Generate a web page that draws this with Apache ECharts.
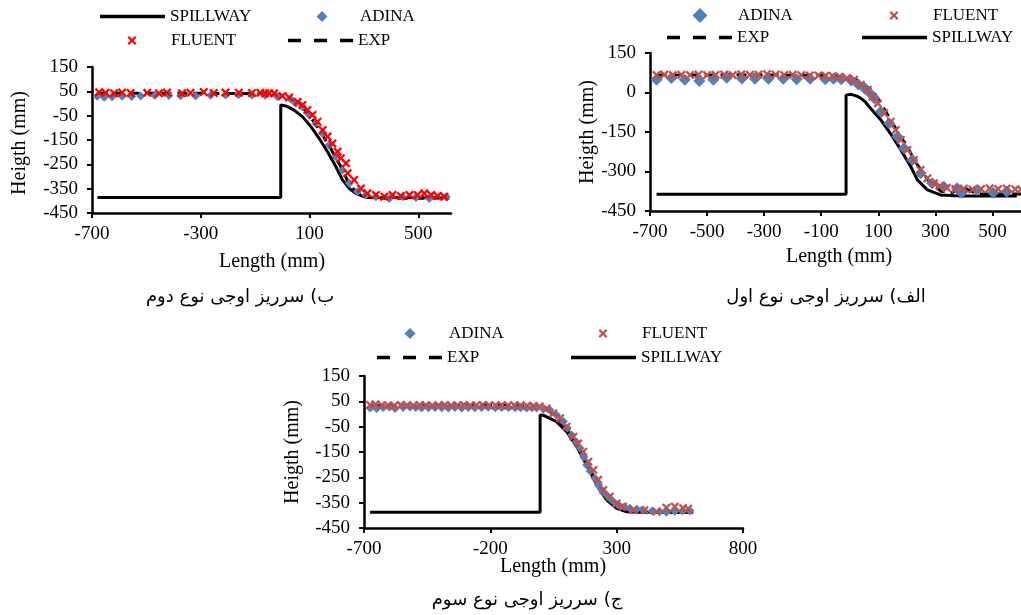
<!DOCTYPE html>
<html><head><meta charset="utf-8">
<script src="https://cdn.jsdelivr.net/npm/echarts@6/dist/echarts.min.js"></script>
<style>html,body{margin:0;padding:0;background:#fff}#c{width:1021px;height:615px}</style>
</head><body><div id="c"></div>
<script>
// ---------- Chart B (top-left) ----------
const spillwayB = [[-680,-386],[-6,-386],[-6,-6],[13,-10],[43,-27],[74,-54],[105,-95],[135,-143],[166,-198],[197,-260],[221,-314],[246,-349],[270,-369],[307,-386],[614,-387]];
const expB = [[-680,42],[-300,42],[-60,40],[-20,36],[20,24],[60,0],[100,-50],[140,-115],[180,-190],[215,-260],[245,-330],[275,-368],[310,-385],[400,-390],[612,-388]];
const adinaB = [[-681,30],[-655,26],[-626,28],[-589,30],[-554,29],[-521,31],[-469,33],[-417,33],[-374,32],[-319,31],[-264,34],[-209,35],[-161,36],[-112,35],[-63,34],[-18,28],[31,17],[50,1],[74,-13],[99,-47],[123,-81],[148,-123],[172,-171],[197,-219],[221,-273],[246,-328],[276,-362],[307,-376],[344,-383],[393,-390],[442,-383],[491,-386],[540,-390],[602,-383]];
const fluentB = [[-674,46],[-650,44],[-619,42],[-589,45],[-558,43],[-497,44],[-454,42],[-424,45],[-369,42],[-338,44],[-289,47],[-252,43],[-209,45],[-160,44],[-112,43],[-81,44],[-63,42],[-49,42],[-30,42],[0,31],[25,25],[56,7],[74,-6],[92,-27],[111,-47],[129,-75],[148,-109],[166,-136],[184,-164],[203,-198],[215,-225],[234,-246],[240,-287],[264,-314],[289,-349],[313,-369],[344,-376],[375,-383],[405,-376],[436,-380],[467,-376],[497,-376],[522,-369],[547,-376],[571,-380],[596,-383]];

// ---------- Chart A (top-right) ----------
const spillwayA = [[-677,-386],[-13,-386],[-13,-10],[5,-7],[25,-14],[39,-22],[55,-36],[68,-54],[109,-104],[150,-168],[179,-218],[214,-282],[237,-332],[272,-370],[318,-389],[388,-393],[585,-393]];
const expA = [[-677,66],[-400,67],[-100,65],[0,58],[40,40],[80,5],[100,-25],[130,-80],[160,-135],[200,-205],[240,-280],[280,-340],[320,-375],[360,-380],[380,-364],[400,-362],[420,-372],[450,-385],[600,-385]];
const adinaA = [[-677,48],[-625,55],[-578,48],[-527,44],[-478,48],[-431,56],[-378,53],[-332,52],[-285,52],[-233,52],[-186,50],[-139,52],[-86,50],[-57,52],[-30,50],[5,46],[30,30],[51,16],[70,-2],[86,-22],[109,-73],[138,-117],[167,-168],[190,-212],[219,-256],[248,-307],[289,-345],[330,-358],[376,-364],[392,-381],[446,-370],[503,-381],[550,-376]];
const fluentA = [[-677,66],[-650,68],[-620,66],[-590,67],[-560,66],[-530,68],[-500,66],[-470,67],[-440,68],[-410,66],[-380,69],[-350,67],[-320,68],[-290,70],[-260,68],[-230,66],[-200,67],[-170,66],[-140,65],[-110,65],[-85,64],[-60,62],[-35,60],[-10,55],[15,48],[39,29],[63,10],[80,-16],[98,-41],[121,-79],[144,-111],[161,-142],[179,-180],[202,-218],[225,-256],[248,-294],[272,-326],[295,-345],[315,-355],[340,-362],[370,-366],[400,-365],[430,-368],[460,-366],[490,-364],[520,-366],[550,-365],[580,-367],[600,-368]];

// ---------- Chart C (bottom) ----------
const spillwayC = [[-676,-388],[-3,-388],[-3,-4],[10,-5],[23,-11],[62,-30],[102,-70],[142,-129],[181,-201],[221,-280],[260,-339],[300,-372],[340,-386],[400,-388],[603,-388]];
const expC = [[-676,32],[-300,34],[-100,33],[-20,30],[20,18],[60,-8],[100,-55],[140,-115],[180,-190],[220,-265],[260,-330],[300,-368],[340,-383],[400,-387],[600,-387]];
const adinaC = [[-676,24],[-650,22],[-624,26],[-600,28],[-577,22],[-545,26],[-518,28],[-495,26],[-472,24],[-445,25],[-419,26],[-392,25],[-366,24],[-340,26],[-313,24],[-287,26],[-261,25],[-235,26],[-208,27],[-180,25],[-155,26],[-128,26],[-102,25],[-80,25],[-56,24],[-35,25],[-17,24],[10,20],[36,16],[62,-4],[89,-30],[105,-55],[122,-83],[140,-110],[155,-135],[170,-170],[181,-201],[195,-225],[214,-254],[228,-280],[241,-300],[258,-318],[273,-333],[290,-348],[306,-359],[330,-366],[352,-372],[380,-376],[405,-379],[440,-383],[470,-385],[497,-388],[530,-384],[560,-383],[590,-382]];
const fluentC = [[-676,36],[-655,38],[-630,35],[-605,34],[-580,33],[-555,36],[-530,35],[-505,34],[-480,36],[-455,35],[-430,34],[-405,35],[-380,36],[-355,34],[-330,35],[-305,36],[-280,34],[-255,35],[-230,36],[-205,35],[-180,34],[-155,35],[-130,34],[-105,35],[-80,34],[-55,33],[-30,32],[-5,30],[23,22],[49,2],[76,-17],[102,-50],[129,-90],[148,-116],[168,-149],[188,-188],[208,-221],[227,-260],[247,-300],[273,-326],[300,-353],[326,-366],[366,-379],[410,-380],[458,-385],[497,-370],[530,-366],[563,-372],[583,-374]];

// ---------- axes ----------
const xAxesDef = [ {min:-700, max:620, interval:400}, {min:-700, max:600, interval:200}, {min:-700, max:800, interval:500} ];
const yAxesDef = [ {min:-450, max:150, interval:100}, {min:-450, max:150, interval:150}, {min:-450, max:150, interval:100} ];
const captions = ['ب) سرریز اوجی نوع دوم', 'الف) سرریز اوجی نوع اول', 'ج) سرریز اوجی نوع سوم'];

const SERIF = 'Liberation Serif';
const BLUE = '#4F81BD', RED_B = '#FF0000', RED = '#C0504D';
const XSYM = 'path://M0,1.8 L1.8,0 L5,3.2 L8.2,0 L10,1.8 L6.8,5 L10,8.2 L8.2,10 L5,6.8 L1.8,10 L0,8.2 L3.2,5 Z';
const SOLID_ICON = 'path://M0,0H65V3.5H0Z';
const DASH_ICON = 'path://M0,0H13V3.5H0Z M26,0H39V3.5H26Z M52,0H65V3.5H52Z';

const grids = [
  {left:92, top:67, width:359, height:146},
  {left:650, top:53, width:371, height:158},
  {left:364, top:376, width:379, height:152}
].map(g => Object.assign({outerBoundsMode:'none', containLabel:false}, g));

const axisCommon = {
  axisLine:{show:true, onZero:false, lineStyle:{color:'#000', width:2.5}},
  axisTick:{show:true, inside:false, length:5, lineStyle:{color:'#000', width:2}},
  splitLine:{show:false},
};
const xAxes = xAxesDef.map((d,i) => Object.assign({}, axisCommon, {
  type:'value', gridIndex:i, min:d.min, max:d.max, interval:d.interval,
  axisLabel:{color:'#000', fontFamily:SERIF, fontSize:19, margin:12, showMaxLabel: i===2}
}));
const yAxes = yAxesDef.map((d,i) => Object.assign({}, axisCommon, {
  type:'value', gridIndex:i, min:d.min, max:d.max, interval:d.interval,
  axisLabel:{color:'#000', fontFamily:SERIF, fontSize:19, margin:14}
}));

function lineS(name, data, i, dashed){
  return {type:'line', name, data, xAxisIndex:i, yAxisIndex:i, symbol:'none', showSymbol:false,
    lineStyle:{color:'#000', width:3, type: dashed ? [10,6] : 'solid'}, itemStyle:{color:'#000'},
    silent:true, z:2};
}
function scatS(name, data, i, sym, size, color){
  return {type:'scatter', name, data, xAxisIndex:i, yAxisIndex:i, symbol:sym, symbolSize:size,
    itemStyle:{color, opacity:1}, silent:true, z:3};
}

const series = [
  lineS('SPILLWAY', spillwayB, 0, false), lineS('EXP', expB, 0, true),
  scatS('ADINA', adinaB, 0, 'diamond', 9, BLUE), scatS('FLUENT', fluentB, 0, XSYM, 9, RED_B),
  lineS('SPILLWAY', spillwayA, 1, false), lineS('EXP', expA, 1, true),
  scatS('ADINA', adinaA, 1, 'diamond', 12, BLUE), scatS('FLUENT', fluentA, 1, XSYM, 9, RED),
  lineS('SPILLWAY', spillwayC, 2, false), lineS('EXP', expC, 2, true),
  scatS('ADINA', adinaC, 2, 'diamond', 9, BLUE), scatS('FLUENT', fluentC, 2, XSYM, 9, RED),
];

const LTXT = {color:'#000', fontFamily:SERIF, fontSize:17};
const LEG_HALF = 8; // half of the legend item content height (text dominated)
function legLine(name, x0, cy, dashed){
  return {show:true, left:x0, top:cy - LEG_HALF, padding:0, itemWidth:65, itemHeight:3.5, selectedMode:false,
    data:[{name, icon: dashed ? DASH_ICON : SOLID_ICON, itemStyle:{color:'#000'}}], textStyle:LTXT};
}
function legMark(name, cx, cy, size, textX, icon, color){
  const left = cx - size/2;
  const pad = Math.max(0, textX - (left + size + 5));
  return {show:true, left, top:cy - LEG_HALF, padding:0, itemWidth:size, itemHeight:size, selectedMode:false,
    data:[{name, icon, itemStyle:{color}}], textStyle:Object.assign({padding:[0,0,0,pad]}, LTXT)};
}
const legends = [
  // B
  legLine('SPILLWAY', 100, 16, false),
  legMark('ADINA', 322, 16, 11, 360, 'diamond', BLUE),
  legMark('FLUENT', 132, 40, 9, 171, XSYM, RED_B),
  legLine('EXP', 288, 40, true),
  // A
  legMark('ADINA', 700, 15, 15, 738, 'diamond', BLUE),
  legMark('FLUENT', 894, 15, 9, 933, XSYM, RED),
  legLine('EXP', 667, 37, true),
  legLine('SPILLWAY', 862, 37, false),
  // C
  legMark('ADINA', 410, 333, 11, 449, 'diamond', BLUE),
  legMark('FLUENT', 603, 333, 9, 642, XSYM, RED),
  legLine('EXP', 377, 357, true),
  legLine('SPILLWAY', 571, 357, false),
];

function txt(text, x, y, size, font, rot){
  return {type:'text', x, y, rotation: rot || 0, silent:true,
    style:{text, fill:'#000', font: size + 'px "' + font + '"', textAlign:'center', textVerticalAlign:'middle'}};
}
const graphic = [
  txt('Heigth (mm)', 20, 143, 20, SERIF, Math.PI/2),
  txt('Length (mm)', 272, 262, 20, SERIF),
  txt(captions[0], 240, 297, 18, 'DejaVu Sans'),
  txt('Heigth (mm)', 588, 132, 20, SERIF, Math.PI/2),
  txt('Length (mm)', 839, 257, 20, SERIF),
  txt(captions[1], 826, 297, 18, 'DejaVu Sans'),
  txt('Heigth (mm)', 293, 452, 20, SERIF, Math.PI/2),
  txt('Length (mm)', 553, 567, 20, SERIF),
  txt(captions[2], 527, 600, 18, 'DejaVu Sans'),
];

const chart = echarts.init(document.getElementById('c'), null, {renderer:'canvas'});
chart.setOption({
  animation:false, backgroundColor:'#fff',
  grid:grids, xAxis:xAxes, yAxis:yAxes, series, legend:legends, graphic
});
</script></body></html>
